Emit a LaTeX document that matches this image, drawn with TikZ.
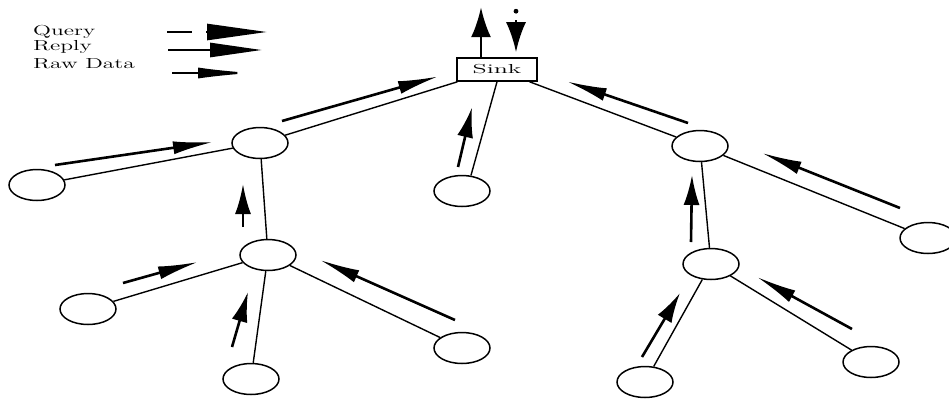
\documentclass[tikz,border=0pt]{standalone}
\usetikzlibrary{arrows.meta,shapes.geometric,calc}
\begin{document}
\begin{tikzpicture}[x=1pt,y=-1pt,
  nd/.style={ellipse,draw,line width=1.5pt,minimum width=56pt,minimum height=31pt,inner sep=0pt},
  sinkbox/.style={rectangle,draw,line width=1.6pt,minimum width=80pt,minimum height=23pt,inner sep=0pt},
  edge/.style={line width=1.4pt},
  flowh/.style={line width=2.6pt,-{Latex[length=40pt,width=13pt]}},
  flowv/.style={line width=2.6pt,-{Latex[length=30pt,width=16pt]}},
  bigflow/.style={line width=2.8pt,-{Latex[length=30pt,width=20pt]}},
  legtext/.style={anchor=base west,inner sep=0pt,font=\fontsize{14.5}{16}\selectfont}
]
\useasboundingbox (0,0) rectangle (949,400);

% legend
\node[legtext] (lq) at (33,35) {\scalebox{1.62}[1]{Query}};
\node[legtext] (lr) at (33,50) {\scalebox{1.62}[1]{Reply}};
\node[legtext] (ld) at (33,68) {\scalebox{1.62}[1]{Raw Data}};
\coordinate (q1) at (167,32);
\coordinate (q2) at (192,32);
\coordinate (q3) at (206,32);
\coordinate (q4) at (267,32);
\draw[line width=2.6pt] (q1) -- (q2);
\draw[line width=2.6pt,-{Triangle[length=60pt,width=16pt]}] (q3) -- (q4);
\coordinate (r1) at (168,50);
\coordinate (r2) at (262,50);
\draw[line width=2.8pt,-{Triangle[length=52pt,width=14pt]}] (r1) -- (r2);
\coordinate (d1) at (172,73);
\coordinate (d2) at (254,73);
\draw[line width=2.2pt,-{Latex[length=56pt,width=11pt]}] (d1) -- (d2);

% nodes
\node[sinkbox] (sink) at (497,69.5) {\scalebox{2}[1]{\fontsize{13}{15}\selectfont Sink}};
\node[nd] (A) at (260,143) {};
\node[nd] (B) at (37,185) {};
\node[nd] (C) at (462,191) {};
\node[nd] (D) at (700,146) {};
\node[nd] (E) at (928,238) {};
\node[nd] (F) at (268,255) {};
\node[nd] (G) at (88,309) {};
\node[nd] (H) at (251,379) {};
\node[nd] (I) at (462,348) {};
\node[nd] (J) at (711,264) {};
\node[nd] (K) at (645,382) {};
\node[nd] (L) at (871,362) {};

% edges
\draw[edge] (A) -- (sink);
\draw[edge] (B) -- (A);
\draw[edge] (A) -- (F);
\draw[edge] (C.60) -- (sink.south);
\draw[edge] (D) -- (sink);
\draw[edge] (E) -- (D);
\draw[edge] (D) -- (J);
\draw[edge] (F) -- (G);
\draw[edge] (F) -- (H);
\draw[edge] (F) -- (I);
\draw[edge] (J) -- (K);
\draw[edge] (J) -- (L);

% flow arrows
\draw[flowh] ($(A)+(22,-22)$) -- ($(sink)+(-59,7)$);
\draw[flowh] ($(B)+(18,-20)$) -- ($(A)+(-47,-1)$);
\draw[flowh] ($(D)+(-12,-23)$) -- ($(sink)+(70,12)$);
\draw[flowv] ($(C)+(-4,-24)$) -- ($(sink)+(-25,38)$);
\draw[flowh] ($(E)+(-28,-30)$) -- ($(D)+(62,7)$);
\draw[flowv] ($(F)+(-25,-28)$) -- ($(A)+(-17,41)$);
\draw[flowh] ($(G)+(35,-26)$) -- ($(F)+(-70,7)$);
\draw[flowh] ($(I)+(-7,-28)$) -- ($(F)+(52,5)$);
\draw[flowv] ($(H)+(-19,-32)$) -- ($(F)+(-20,37)$);
\draw[flowv] ($(J)+(-20,-22)$) -- ($(D)+(-8,29)$);
\draw[flowv] ($(K)+(-3,-25)$) -- ($(J)+(-31,29)$);
\draw[flowh] ($(L)+(-19,-33)$) -- ($(J)+(46,13)$);

% sink in/out
\draw[bigflow] ($(sink.north)+(-16,0)$) -- ($(sink.north)+(-16,-50)$);
\fill ($(sink.north)+(19,-46)$) circle (2.4pt);
\draw[bigflow] ($(sink.north)+(19,-37)$) -- ($(sink.north)+(19,-5)$);
\end{tikzpicture}
\end{document}
